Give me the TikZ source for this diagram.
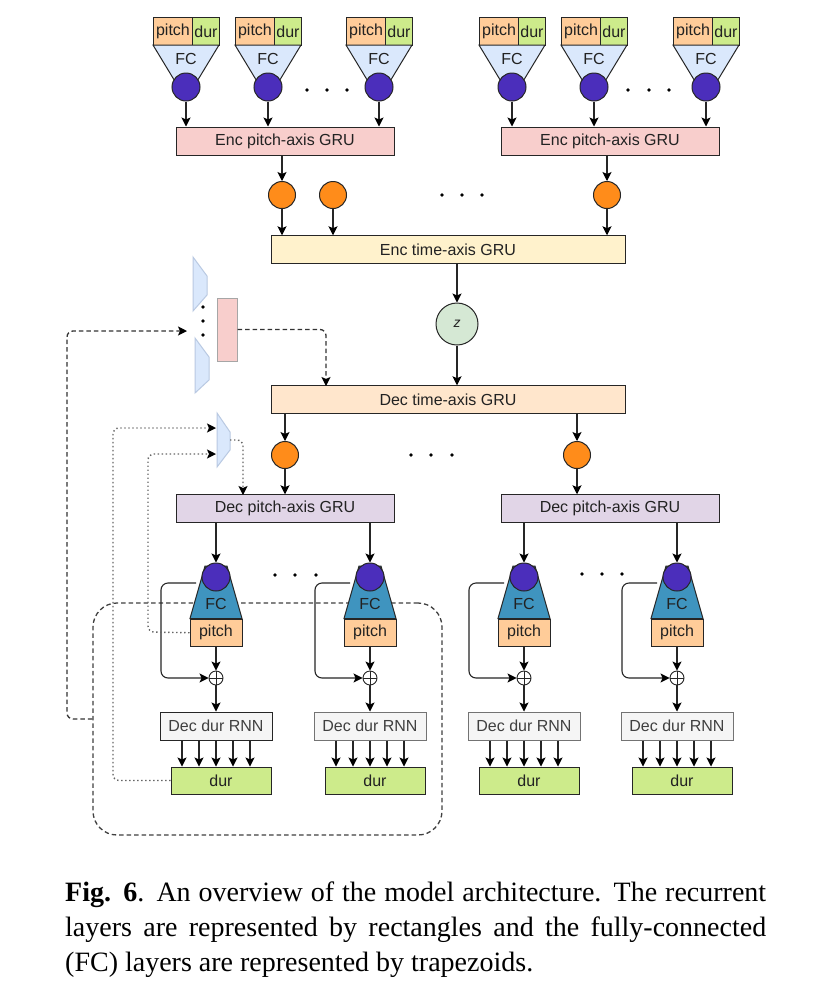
\documentclass[tikz,border=0pt]{standalone}
\usepackage{fontspec}
\setmainfont{Liberation Serif}
\newfontfamily\diagfont{Liberation Sans}
\usetikzlibrary{arrows.meta}
\definecolor{pitchc}{HTML}{FFCC99}
\definecolor{durc}{HTML}{CDEB8B}
\definecolor{fcl}{HTML}{DAE8FC}
\definecolor{fclb}{HTML}{B9C9E2}
\definecolor{purp}{HTML}{4B2EBB}
\definecolor{orng}{HTML}{FF8C1A}
\definecolor{encp}{HTML}{F8CECC}
\definecolor{enct}{HTML}{FFF2CC}
\definecolor{dect}{HTML}{FFE6CC}
\definecolor{decp}{HTML}{E1D5E7}
\definecolor{zc}{HTML}{D5E8D4}
\definecolor{fcd}{HTML}{3F94BF}
\definecolor{rnnf}{HTML}{F5F5F5}
\definecolor{txt}{HTML}{222222}
\begin{document}
\begin{tikzpicture}[x=1pt,y=-1pt,
  box/.style={draw=black!85, line width=1pt, inner sep=0pt, font=\diagfont\fontsize{16}{18}\selectfont, text=txt},
  lbl/.style={inner sep=0pt, font=\diagfont\fontsize{16}{18}\selectfont, text=txt},
  pcirc/.style={circle, draw=black!85, fill=purp, minimum size=28pt, inner sep=0pt, line width=1pt},
  ocirc/.style={circle, draw=black!85, fill=orng, minimum size=27pt, inner sep=0pt, line width=1pt},
  oplus/.style={circle, draw=black!85, fill=white, minimum size=14pt, inner sep=0pt, line width=0.9pt,
    path picture={\draw[black!85, line width=0.9pt] (path picture bounding box.north) -- (path picture bounding box.south) (path picture bounding box.west) -- (path picture bounding box.east);}},
  tip/.style={-{Stealth[length=9pt,width=9pt,inset=2pt,color=black]}},
  arr/.style={draw=black!85, line width=1.1pt, tip},
  dashedc/.style={draw=black!80, line width=1.3pt, dash pattern=on 4.5pt off 3pt, rounded corners=6pt},
  dottedc/.style={draw=black!60, line width=1.4pt, dash pattern=on 1.4pt off 2.6pt, rounded corners=6pt},
  sidetrap/.style={fill=fcl, draw=fclb, line width=1pt},
  fctop/.style={fill=fcl, draw=black!85, line width=1pt},
  fcbot/.style={fill=fcd, draw=black!85, line width=1pt},
  bigbox/.style={box, minimum height=27.5pt},
  ddot/.style={fill=black}
]
\useasboundingbox (0,0) rectangle (816,1005);
\fill[white] (0,0) rectangle (816,1005);

% big dashed loop (behind everything)
\node[draw=black!75, line width=1.3pt, dash pattern=on 4.5pt off 3pt, rounded corners=24pt,
      minimum width=349pt, minimum height=232pt, inner sep=0pt] (loop) at (267.5,719) {};

% ---------------- encoder inputs ----------------
\foreach \cx [count=\i] in {186,268,379,512,594,706} {
  \node[box, fill=pitchc, minimum width=39pt, minimum height=28pt, anchor=north west] (inp\i) at (\cx-33,17) {pitch};
  \node[box, fill=durc, minimum width=27pt, minimum height=28pt, anchor=north west] (ind\i) at (\cx+6,17) {dur};
  \filldraw[fctop] (\cx-33,45) -- (\cx+33,45) -- (\cx+10,83) -- (\cx-10,83) -- cycle;
  \node[lbl] (fct\i) at (\cx,59) {FC};
  \node[pcirc] (ec\i) at (\cx,87) {};
}
\node[bigbox, fill=encp, minimum width=218pt, minimum height=28pt] (ep1) at (285,141) {Enc pitch-axis GRU};
\node[bigbox, fill=encp, minimum width=218pt, minimum height=28pt] (ep2) at (610,141) {Enc pitch-axis GRU};
\foreach \i in {1,2,3} \draw[arr] (ec\i.south) -- (ec\i.south |- ep1.north);
\foreach \i in {4,5,6} \draw[arr] (ec\i.south) -- (ec\i.south |- ep2.north);

% orange circles (encoder)
\node[ocirc] (oc1) at (282,195) {};
\node[ocirc] (oc2) at (333,195) {};
\node[ocirc] (oc3) at (607,195) {};
\draw[arr] (ep1.south -| oc1) -- (oc1.north);
\draw[arr] (ep2.south -| oc3) -- (oc3.north);

\node[bigbox, fill=enct, minimum width=354pt] (et) at (448,249.5) {Enc time-axis GRU};
\foreach \i in {1,2,3} \draw[arr] (oc\i.south) -- (oc\i.south |- et.north);

\node[circle, draw=black!85, fill=zc, minimum size=42pt, inner sep=0pt, line width=1pt,
      font=\diagfont\itshape\fontsize{14}{16}\selectfont, text=txt] (z) at (457,324) {z};
\draw[arr] (z |- et.south) -- (z.north);

\node[bigbox, fill=dect, minimum width=354pt] (dt) at (448,399.5) {Dec time-axis GRU};
\draw[arr] (z.south) -- (z |- dt.north);

% side trapezoids + pink rect
\filldraw[sidetrap] (193,257) -- (207,276) -- (207,295) -- (193,311) -- cycle;
\filldraw[sidetrap] (195,338) -- (209,357) -- (209,380) -- (195,393) -- cycle;
\node[fill=encp, draw=black!35, line width=1pt, minimum width=20pt, minimum height=63pt, inner sep=0pt] (pr) at (227,329.5) {};
\filldraw[sidetrap] (217,413) -- (230,432) -- (230,450) -- (217,467) -- cycle;
\coordinate (stackin) at (187,331);
\coordinate (dtin) at (326,386);
\coordinate (sa1) at (216,428);
\coordinate (sa2) at (216,454);
\coordinate (sout) at (230,440);
\coordinate (dpin) at (243,495);

% decoder orange circles
\node[ocirc] (do1) at (285,455) {};
\node[ocirc] (do2) at (577,455) {};
\draw[arr] (dt.south -| do1) -- (do1.north);
\draw[arr] (dt.south -| do2) -- (do2.north);

\node[bigbox, fill=decp, minimum width=218pt] (dp1) at (285,508.5) {Dec pitch-axis GRU};
\node[bigbox, fill=decp, minimum width=218pt] (dp2) at (610,508.5) {Dec pitch-axis GRU};
\draw[arr] (do1.south) -- (do1 |- dp1.north);
\draw[arr] (do2.south) -- (do2 |- dp2.north);

% decoder columns
\foreach \cx/\i/\p/\rb in {216/1/dp1/black!85, 370/2/dp1/black!55, 524/3/dp2/black!55, 677/4/dp2/black!55} {
  \filldraw[fcbot] (\cx-11,566) -- (\cx+11,566) -- (\cx+26,618.5) -- (\cx-26,618.5) -- cycle;
  \node[lbl] (fcb\i) at (\cx,604) {FC};
  \node[pcirc] (pc\i) at (\cx,577) {};
  \node[box, fill=pitchc, minimum width=52pt, minimum height=27.5pt, anchor=north] (pitch\i) at (\cx,618.5) {pitch};
  \node[oplus] (op\i) at (\cx,678) {};
  \node[box, fill=rnnf, draw=\rb, text=black!75, minimum width=112pt, minimum height=28pt] (rnn\i) at (\cx,726) {Dec dur RNN};
  \node[box, fill=durc, minimum width=100pt, minimum height=27pt] (dur\i) at (\cx+5,780.5) {dur};
  \draw[arr] (\p.south -| pc\i) -- (pc\i.north);
  \draw[arr] (pitch\i.south) -- (op\i.north);
  \draw[arr] (op\i.south) -- (rnn\i.north);
  \draw[arr, rounded corners=7pt] (\cx-20,583) -- (\cx-55,583) -- (\cx-55,678) -- (op\i.west);
  \foreach \d in {-34,-17,0,17,34}
    \draw[arr] ([xshift=\d pt]rnn\i.south) -- ([xshift=\d pt]rnn\i.south |- dur\i.north);
}

% dashed feedback connectors
\draw[dashedc, tip] (loop.west) -- (67,719) -- (67,331) -- (stackin);
\draw[dashedc, tip] (pr.east) -| (dtin);

% dotted connectors
\draw[dottedc, tip] (dur1.west) -- (113,780.5) -- (113,428) -- (sa1);
\draw[dottedc, tip] (pitch1.west) -- (148,632) -- (148,454) -- (sa2);
\draw[dottedc, tip] (sout) -- (243,440) -- (dpin);

% ellipsis dots
\foreach \x/\y in {307/90,327/90,347/90,628/90,649/90,669/90,
                   442/195,462/195,482/195,411/455,431/455,452/455,
                   275/575,295/575,316/575,582/574,602/574,622/574,
                   203/307,203/321,203/335}
  \fill[ddot] (\x,\y) circle (1.9);

% caption
\node[anchor=base west, inner sep=0pt] (cap) at (65,901) {\parbox[t]{701pt}{\fontsize{28}{35}\selectfont
\textbf{Fig. 6}. An overview of the model architecture. The recurrent\linebreak
layers are represented by rectangles and the fully-connected\linebreak
(FC) layers are represented by trapezoids.}};
\end{tikzpicture}
\end{document}
